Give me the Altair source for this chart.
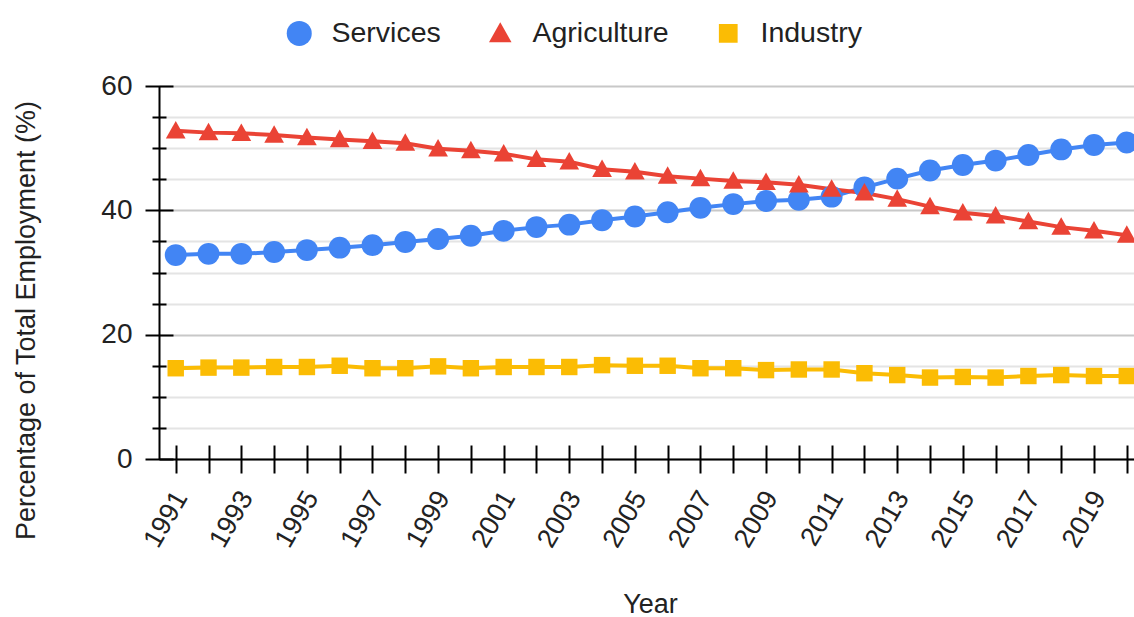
import altair as alt
import pandas as pd

years = list(range(1991, 2021))
services = [32.8, 33.0, 33.0, 33.3, 33.6, 34.0, 34.4, 34.9, 35.4, 35.9,
            36.7, 37.3, 37.7, 38.4, 39.0, 39.7, 40.4, 41.0, 41.5, 41.7,
            42.2, 43.7, 45.1, 46.4, 47.3, 48.0, 48.9, 49.8, 50.5, 50.9]
agriculture = [52.8, 52.5, 52.4, 52.1, 51.7, 51.4, 51.1, 50.8, 49.9, 49.6,
               49.1, 48.2, 47.8, 46.6, 46.2, 45.5, 45.1, 44.7, 44.5, 44.1,
               43.4, 42.8, 41.8, 40.6, 39.6, 39.1, 38.2, 37.3, 36.7, 36.0]
industry = [14.6, 14.7, 14.7, 14.8, 14.8, 15.0, 14.6, 14.6, 14.9, 14.6,
            14.8, 14.8, 14.8, 15.1, 15.0, 15.0, 14.6, 14.6, 14.3, 14.4,
            14.4, 13.8, 13.5, 13.1, 13.2, 13.1, 13.35, 13.5, 13.35, 13.35]

series_names = ["Services", "Agriculture", "Industry"]
series_colors = ["#4285F4", "#EA4335", "#FBBC04"]
series_shapes = ["circle",
                 "M0,-0.9L0.9,0.7L-0.9,0.7Z",
                 "M-0.75,-0.75L0.75,-0.75L0.75,0.75L-0.75,0.75Z"]
y_major = [0, 20, 40, 60]
y_minor = [5, 10, 15, 25, 30, 35, 45, 50, 55]
y_grid = list(range(0, 61, 5))

rows = []
for name, vals in zip(series_names, [services, agriculture, industry]):
    for yr, v in zip(years, vals):
        rows.append({"Year": yr, "Value": v, "Series": name})
df = pd.DataFrame(rows)

FONT = "Liberation Sans"
xscale = alt.Scale(domain=[1990.49, 2020.22], nice=False, zero=False)
yscale = alt.Scale(domain=[0, 60], nice=False, zero=True)
cscale = alt.Scale(domain=series_names, range=series_colors)
sscale = alt.Scale(domain=series_names, range=series_shapes)

legend = alt.Legend(orient="top", direction="horizontal", offset=38,
                    title=" ", titleOrient="left", titleFontSize=1, titlePadding=126,
                    labelFontSize=28.5, labelFont=FONT, labelColor="#222222",
                    symbolSize=625, labelOffset=18, columnPadding=45,
                    labelLimit=400)

base = alt.Chart(df)

line_layers = []
for i, (name, col) in enumerate(zip(series_names, series_colors)):
    if i == 0:
        xax = alt.Axis(orient="bottom", domain=True, domainColor="black", domainWidth=2,
                       ticks=False, labels=False, grid=False, title=None)
        yax = alt.Axis(orient="left", values=y_grid, domain=True, domainColor="black",
                       domainWidth=2, ticks=False, labels=False, grid=True,
                       gridColor={"condition": {"test": "datum.value % 20 === 0", "value": "#c8c8c8"},
                                  "value": "#e4e4e4"},
                       gridWidth=2, title=None)
    else:
        xax = None
        yax = None
    line_layers.append(
        base.transform_filter(alt.datum.Series == name).mark_line(strokeWidth=4, color=col).encode(
            x=alt.X("Year:Q", scale=xscale, axis=xax),
            y=alt.Y("Value:Q", scale=yscale, axis=yax),
        )
    )

points = base.mark_point(filled=True, opacity=1, size=480, strokeWidth=0).encode(
    x=alt.X("Year:Q", scale=xscale,
            axis=alt.Axis(orient="bottom", values=years, format="d",
                          labelExpr="datum.value % 2 == 1 ? datum.label : ''",
                          offset=-14, tickSize=28, tickWidth=2, tickColor="black",
                          domain=False, grid=False, labelAngle=-60, labelAlign="right",
                          labelBaseline="middle", labelPadding=20, labelOffset=5,
                          labelFontSize=27, labelFlush=False, labelOverlap=False,
                          title="Year", titleX=491, titleY=167, titleBaseline="alphabetic",
                          titleAlign="center", titleFontSize=27)),
    y=alt.Y("Value:Q", scale=yscale,
            axis=alt.Axis(orient="left", values=y_major, offset=-14, tickSize=28, tickWidth=2,
                          tickColor="black", domain=False, grid=False, labelPadding=13,
                          labelFontSize=28, labelFlush=False, labelBaseline="middle",
                          title="Percentage of Total Employment (%)", titleX=-147, titleY=234,
                          titleAngle=270, titleBaseline="middle", titleAlign="center",
                          titleFontSize=27)),
    color=alt.Color("Series:N", scale=cscale, legend=legend),
    shape=alt.Shape("Series:N", scale=sscale, legend=legend),
)

minor = base.mark_point(opacity=0).encode(
    x=alt.X("Year:Q", scale=xscale, axis=None),
    y=alt.Y("Value:Q", scale=yscale,
            axis=alt.Axis(orient="left", values=y_minor, offset=-7, tickSize=14, tickWidth=2,
                          tickColor="black", domain=False, labels=False, grid=False, title=None)),
)

chart = alt.layer(*line_layers, points, minor).resolve_axis(
    x="independent", y="independent"
).properties(
    width=975, height=373,
    padding={"left": 159, "top": 86, "right": 0, "bottom": 158},
    autosize=alt.AutoSizeParams(type="none"),
).configure_view(stroke=None).configure_axis(
    labelFont=FONT, titleFont=FONT, labelColor="#222222", titleColor="#222222",
    titleFontWeight="normal",
)

chart.save("out.html", embed_options={"renderer": "svg", "actions": False})
